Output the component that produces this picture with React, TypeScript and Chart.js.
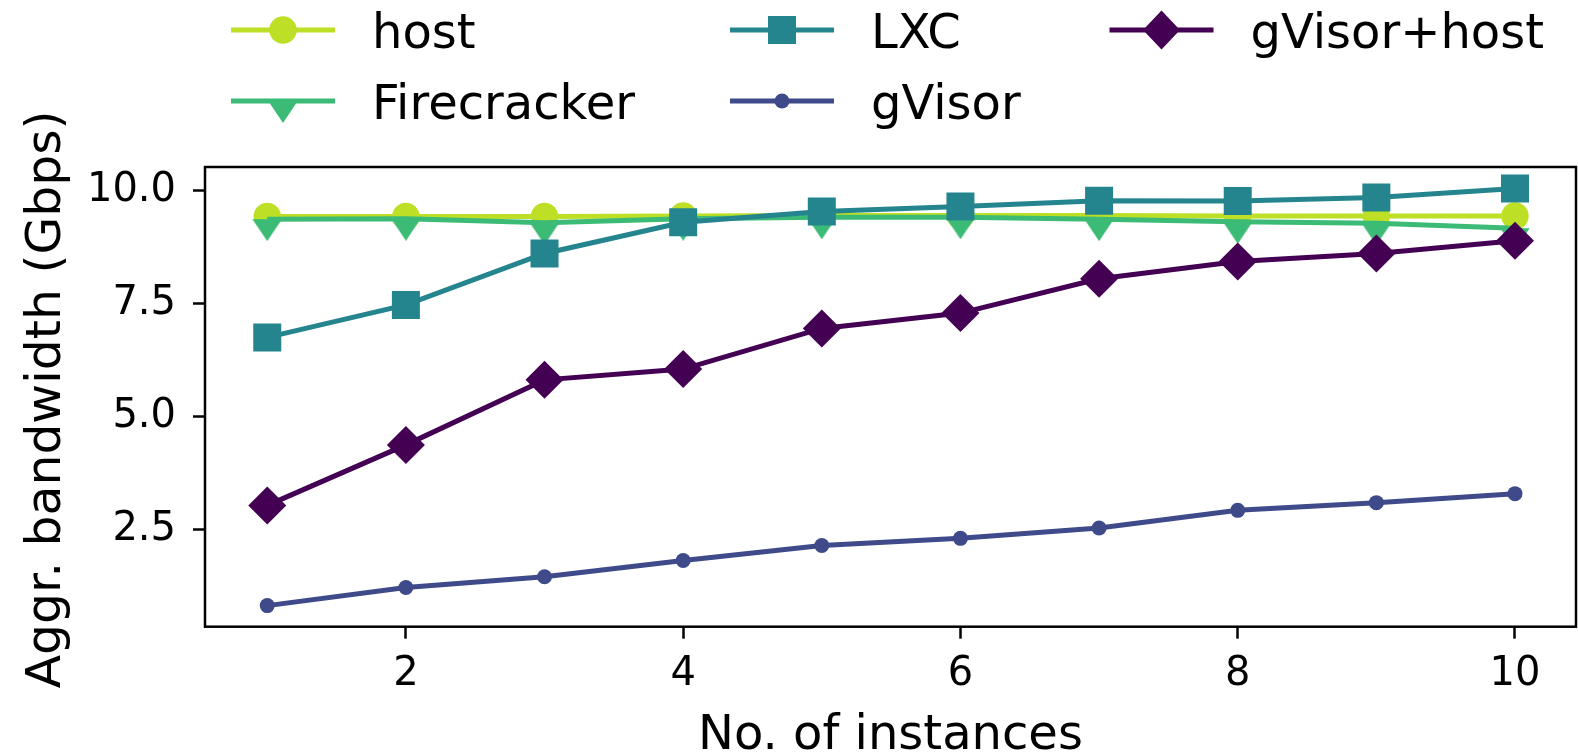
import React, { useEffect, useRef } from "react";
import { Chart, registerables } from "chart.js";

Chart.register(...registerables);

// ---- data ----
const instances = [1, 2, 3, 4, 5, 6, 7, 8, 9, 10];
const hostBw = [9.43, 9.43, 9.43, 9.44, 9.45, 9.45, 9.45, 9.44, 9.44, 9.44];
const firecrackerBw = [9.37, 9.38, 9.29, 9.38, 9.41, 9.41, 9.37, 9.31, 9.28, 9.17];
const lxcBw = [6.75, 7.47, 8.61, 9.3, 9.54, 9.65, 9.78, 9.77, 9.85, 10.05];
const gvisorBw = [0.81, 1.21, 1.45, 1.81, 2.14, 2.3, 2.53, 2.92, 3.09, 3.29];
const gvisorHostBw = [3.03, 4.37, 5.81, 6.05, 6.95, 7.29, 8.05, 8.43, 8.61, 8.89];
const xTickValues = [2, 4, 6, 8, 10];
const yTickValues = [2.5, 5, 7.5, 10];
const xTitle = "No. of instances";
const yTitle = "Aggr. bandwidth (Gbps)";

const C_HOST = "#bddf26";
const C_FC = "#3bbb75";
const C_LXC = "#25858e";
const C_GV = "#3e4a89";
const C_GVH = "#440154";

const FONT = "'DejaVu Sans', 'Liberation Sans', sans-serif";

function makeCaret(color: string): HTMLCanvasElement {
  const c = document.createElement("canvas");
  c.width = 30;
  c.height = 44;
  const ctx = c.getContext("2d")!;
  ctx.fillStyle = color;
  ctx.beginPath();
  ctx.moveTo(0.3, 22);
  ctx.lineTo(29.7, 22);
  ctx.lineTo(15, 44);
  ctx.closePath();
  ctx.fill();
  return c;
}

type MarkerKind = "circle" | "caret" | "square" | "dot" | "diamond";

function drawMarker(ctx: CanvasRenderingContext2D, kind: MarkerKind, color: string, x: number, y: number, caret: HTMLCanvasElement) {
  ctx.fillStyle = color;
  ctx.beginPath();
  if (kind === "circle") {
    ctx.arc(x, y, 13.7, 0, Math.PI * 2);
    ctx.fill();
  } else if (kind === "dot") {
    ctx.arc(x, y, 7.5, 0, Math.PI * 2);
    ctx.fill();
  } else if (kind === "square") {
    ctx.fillRect(x - 14, y - 14, 28, 28);
  } else if (kind === "diamond") {
    ctx.moveTo(x - 18.5, y);
    ctx.lineTo(x, y - 19.5);
    ctx.lineTo(x + 18.5, y);
    ctx.lineTo(x, y + 19.5);
    ctx.closePath();
    ctx.fill();
  } else if (kind === "caret") {
    ctx.drawImage(caret, x - 15, y - 22);
  }
}

export default function App() {
  const ref = useRef<HTMLCanvasElement | null>(null);

  useEffect(() => {
    document.body.style.margin = "0";
    const canvas = ref.current!;
    const caret = makeCaret(C_FC);
    const pts = (arr: number[]) => instances.map((x, i) => ({ x, y: arr[i] }));

    const legendItems: { label: string; color: string; kind: MarkerKind; lineX: number; row: number }[] = [
      { label: "host", color: C_HOST, kind: "circle", lineX: 231, row: 0 },
      { label: "Firecracker", color: C_FC, kind: "caret", lineX: 231, row: 1 },
      { label: "LXC", color: C_LXC, kind: "square", lineX: 730, row: 0 },
      { label: "gVisor", color: C_GV, kind: "dot", lineX: 730, row: 1 },
      { label: "gVisor+host", color: C_GVH, kind: "diamond", lineX: 1109.5, row: 0 },
    ];

    const decor = {
      id: "decor",
      afterDraw(chart: any) {
        const { ctx, chartArea: a } = chart;
        ctx.save();
        ctx.strokeStyle = "#000";
        ctx.lineWidth = 2.5;
        ctx.strokeRect(a.left, a.top, a.right - a.left, a.bottom - a.top);

        // legend
        const rowsY = [30, 101];
        ctx.font = `48px ${FONT}`;
        for (const it of legendItems) {
          const y = rowsY[it.row];
          ctx.strokeStyle = it.color;
          ctx.lineWidth = 5;
          ctx.lineCap = "butt";
          ctx.beginPath();
          ctx.moveTo(it.lineX, y);
          ctx.lineTo(it.lineX + 104, y);
          ctx.stroke();
          drawMarker(ctx, it.kind, it.color, it.lineX + 52, y, caret);
          ctx.fillStyle = "#000";
          ctx.textAlign = "left";
          ctx.textBaseline = "alphabetic";
          ctx.fillText(it.label, it.lineX + 141, y + 17.7);
        }

        // axis titles
        ctx.fillStyle = "#000";
        ctx.font = `48px ${FONT}`;
        ctx.textAlign = "center";
        ctx.textBaseline = "alphabetic";
        ctx.fillText(xTitle, (a.left + a.right) / 2, 749);
        ctx.font = `48.8px ${FONT}`;
        ctx.translate(60, (a.top + a.bottom) / 2 + 2.5);
        ctx.rotate(-Math.PI / 2);
        ctx.fillText(yTitle, 0, 0);
        ctx.restore();
      },
    };

    const tickFont = { family: FONT, size: 40 };

    const chart = new Chart(canvas, {
      type: "line",
      data: {
        datasets: [
          {
            label: "host",
            data: pts(hostBw),
            borderColor: C_HOST,
            backgroundColor: C_HOST,
            pointBackgroundColor: C_HOST,
            pointStyle: "circle",
            pointRadius: 13.7,
            order: 4,
          },
          {
            label: "Firecracker",
            data: pts(firecrackerBw),
            borderColor: C_FC,
            backgroundColor: C_FC,
            pointStyle: caret as any,
            pointRadius: 15,
            order: 3,
          },
          {
            label: "LXC",
            data: pts(lxcBw),
            borderColor: C_LXC,
            backgroundColor: C_LXC,
            pointBackgroundColor: C_LXC,
            pointStyle: "rect",
            pointRadius: 19.8,
            order: 2,
          },
          {
            label: "gVisor",
            data: pts(gvisorBw),
            borderColor: C_GV,
            backgroundColor: C_GV,
            pointBackgroundColor: C_GV,
            pointStyle: "circle",
            pointRadius: 7.5,
            order: 1,
          },
          {
            label: "gVisor+host",
            data: pts(gvisorHostBw),
            borderColor: C_GVH,
            backgroundColor: C_GVH,
            pointBackgroundColor: C_GVH,
            pointStyle: "rectRot",
            pointRadius: 19,
            order: 0,
          },
        ] as any,
      },
      options: {
        animation: false,
        responsive: false,
        devicePixelRatio: 1,
        layout: { autoPadding: false, padding: { top: 167, right: 2, left: 0, bottom: 0 } },
        elements: {
          line: { borderWidth: 5, tension: 0, fill: false },
          point: { borderWidth: 0, hoverRadius: 0, hitRadius: 0 },
        },
        plugins: {
          legend: { display: false },
          tooltip: { enabled: false },
          title: { display: false },
        },
        scales: {
          x: {
            type: "linear",
            min: 0.551,
            max: 10.44,
            afterFit: (s: any) => {
              s.height = 128.3;
              s.paddingLeft = 0;
              s.paddingRight = 0;
            },
            afterBuildTicks: (s: any) => {
              s.ticks = xTickValues.map((v) => ({ value: v }));
            },
            ticks: {
              font: tickFont,
              color: "#000",
              padding: 12,
              autoSkip: false,
              maxRotation: 0,
              callback: (v: any) => String(v),
            },
            grid: {
              display: true,
              drawOnChartArea: false,
              drawTicks: true,
              tickLength: 12,
              tickWidth: 2.5,
              tickColor: "#000",
            },
            border: { display: false },
          },
          y: {
            type: "linear",
            min: 0.343,
            max: 10.525,
            afterFit: (s: any) => {
              s.width = 205;
              s.paddingTop = 0;
              s.paddingBottom = 0;
            },
            afterBuildTicks: (s: any) => {
              s.ticks = yTickValues.map((v) => ({ value: v }));
            },
            ticks: {
              font: tickFont,
              color: "#000",
              padding: 17,
              autoSkip: false,
              callback: (v: any) => Number(v).toFixed(1),
            },
            grid: {
              display: true,
              drawOnChartArea: false,
              drawTicks: true,
              tickLength: 12,
              tickWidth: 2.5,
              tickColor: "#000",
            },
            border: { display: false },
          },
        },
      } as any,
      plugins: [decor],
    });

    return () => chart.destroy();
  }, []);

  return (
    <div style={{ width: 1578, height: 755, background: "#fff" }}>
      <canvas ref={ref} width={1578} height={755} style={{ display: "block", width: 1578, height: 755 }} />
    </div>
  );
}
